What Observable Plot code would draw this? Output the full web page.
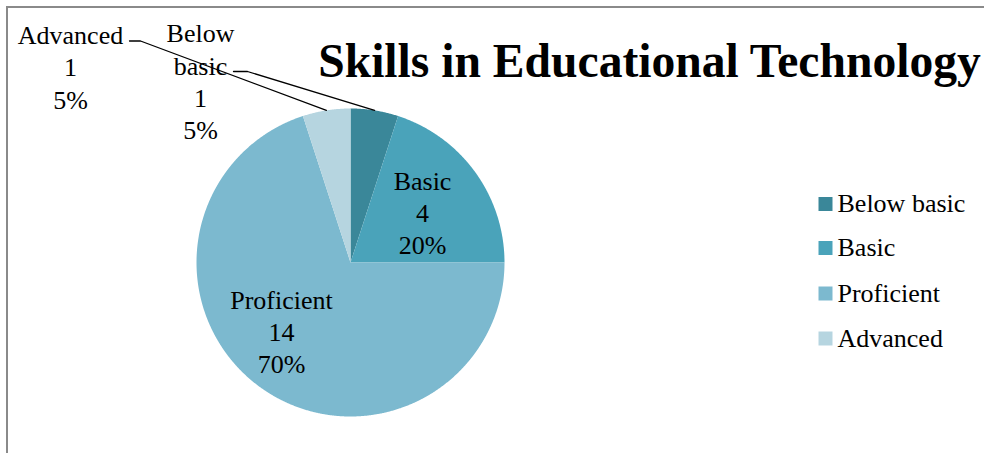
<!DOCTYPE html>
<html>
<head>
<meta charset="utf-8">
<script src="https://cdn.jsdelivr.net/npm/d3@7"></script>
<script src="https://cdn.jsdelivr.net/npm/@observablehq/plot@0.6"></script>
<style>
  html, body { margin: 0; padding: 0; background: #fff; }
  #wrap { position: relative; width: 984px; height: 453px; overflow: hidden; }
  #border { position: absolute; left: 6px; top: 6px; width: 2000px; height: 2000px;
            border-left: 2px solid #8a8a8a; border-top: 2px solid #8a8a8a; pointer-events: none; }
  #chart { position: absolute; left: 0; top: 0; }
</style>
</head>
<body>
<div id="wrap"><div id="chart"></div><div id="border"></div></div>
<script>
// ---- data ----
const title = "Skills in Educational Technology";
const categories = ["Below basic", "Basic", "Proficient", "Advanced"];
const counts = [1, 4, 14, 1];
const percents = ["5%", "20%", "70%", "5%"];
const labelNames = ["Below\nbasic", "Basic", "Proficient", "Advanced"];
const colors = ["#3a8799", "#4aa3ba", "#7cb9cf", "#b6d5e0"];

// ---- layout (pixels) ----
const W = 984, H = 453;
const CX = 350, CY = 262, R = 154;
const px2x = p => (p - CX) / R;
const px2y = p => (CY - p) / R;
// label block centres and leader-line elbows (pixels)
const labelLayout = {
  "Below basic": {x: 200, y: 80, elbow: [247, 71], end: [233, 71]},
  "Basic": {x: 422, y: 211},
  "Proficient": {x: 281, y: 330},
  "Advanced": {x: 70, y: 65.5, elbow: [140, 40.5], end: [129, 40.5]}
};
const legendLayout = {squareX: 825, textX: 837, rows: [203.5, 247.5, 293, 338]};

const rows = categories.map((c, i) => ({cat: c, count: counts[i], pct: percents[i], name: labelNames[i]}));
const arcs = d3.pie().sort(null).value(d => d.count)(rows);

// slice polygons in unit coordinates (angle clockwise from 12 o'clock)
const slicePts = [];
for (const a of arcs) {
  slicePts.push({cat: a.data.cat, x: 0, y: 0});
  const n = Math.max(2, Math.ceil((a.endAngle - a.startAngle) / 0.005));
  for (let k = 0; k <= n; k++) {
    const t = a.startAngle + (a.endAngle - a.startAngle) * k / n;
    slicePts.push({cat: a.data.cat, x: Math.sin(t), y: Math.cos(t)});
  }
  slicePts.push({cat: a.data.cat, x: 0, y: 0});
}

// leader lines
const leaderPts = [];
for (const a of arcs) {
  const L = labelLayout[a.data.cat];
  if (!L.elbow) continue;
  const m = (a.startAngle + a.endAngle) / 2;
  leaderPts.push({cat: a.data.cat, x: Math.sin(m), y: Math.cos(m)});
  leaderPts.push({cat: a.data.cat, x: px2x(L.elbow[0]), y: px2y(L.elbow[1])});
  leaderPts.push({cat: a.data.cat, x: px2x(L.end[0]), y: px2y(L.end[1])});
}

const labels = arcs.map(a => {
  const L = labelLayout[a.data.cat];
  return {x: px2x(L.x), y: px2y(L.y), text: `${a.data.name}\n${a.data.count}\n${a.data.pct}`};
});

const legendRows = categories.map((c, i) => ({cat: c, x: px2x(legendLayout.squareX), tx: px2x(legendLayout.textX), y: px2y(legendLayout.rows[i])}));

const FONT = "'Liberation Serif', 'Times New Roman', serif";

const chart = Plot.plot({
  width: W, height: H,
  marginTop: 0, marginRight: 0, marginBottom: 0, marginLeft: 0,
  style: {fontFamily: FONT, background: "transparent", color: "#000"},
  x: {domain: [-1, 1], range: [CX - R, CX + R], axis: null},
  y: {domain: [-1, 1], range: [CY + R, CY - R], axis: null},
  color: {domain: categories, range: colors},
  marks: [
    Plot.line(slicePts, {x: "x", y: "y", z: "cat", fill: "cat", stroke: "none", curve: "linear"}),
    Plot.line(leaderPts, {x: "x", y: "y", z: "cat", stroke: "#000", strokeWidth: 1.3, fill: "none"}),
    Plot.text(labels, {x: "x", y: "y", text: "text", fontSize: 26, lineHeight: 1.24, fill: "#000", textAnchor: "middle", lineAnchor: "middle", fontFamily: FONT}),
    Plot.dot(legendRows, {x: "x", y: "y", fill: "cat", symbol: "square", r: 7.9, stroke: "none"}),
    Plot.text(legendRows, {x: "tx", y: "y", text: "cat", fontSize: 26, textAnchor: "start", lineAnchor: "middle", fill: "#000", fontFamily: FONT}),
    Plot.text([title], {x: () => px2x(649), y: () => px2y(61.5), text: d => d, fontSize: 47.6, fontWeight: "bold", textAnchor: "middle", lineAnchor: "middle", fill: "#000", fontFamily: FONT})
  ]
});
document.getElementById("chart").appendChild(chart);
</script>
</body>
</html>
